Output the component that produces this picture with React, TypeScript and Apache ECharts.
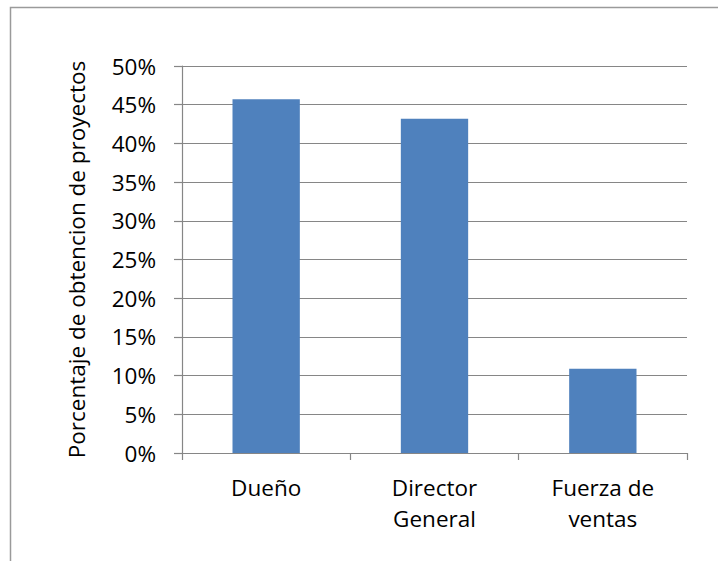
import React, { useEffect, useRef } from "react";
import * as echarts from "echarts";

const categories = ["Dueño", "Director\nGeneral", "Fuerza de\nventas"];
const percentages = [45.7, 43.2, 10.9];
const yTicks = [0, 5, 10, 15, 20, 25, 30, 35, 40, 45, 50];
const yAxisTitle = "Porcentaje de obtencion de proyectos";

const FONT = "'Open Sans', sans-serif";
const GRID_COLOR = "#868686";

export default function App() {
  const ref = useRef<HTMLDivElement>(null);

  useEffect(() => {
    if (!ref.current) return;
    const chart = echarts.init(ref.current, undefined, { renderer: "svg" });
    chart.setOption({
      animation: false,
      backgroundColor: "#ffffff",
      graphic: [
        {
          type: "rect",
          shape: { x: 10.5, y: 7.5, width: 800, height: 700 },
          style: { fill: "none", stroke: "#9a9a9a", lineWidth: 1.5 },
          silent: true,
        },
      ],
      grid: { left: 182, right: 31, top: 66, bottom: 108, containLabel: false },
      xAxis: {
        type: "category",
        data: categories,
        axisLine: { lineStyle: { color: GRID_COLOR, width: 1.2 } },
        axisTick: { show: true, length: 7, lineStyle: { color: GRID_COLOR, width: 1.2 } },
        axisLabel: {
          color: "#000",
          fontFamily: FONT,
          fontSize: 22.5,
          lineHeight: 31,
          margin: 19,
          interval: 0,
        },
      },
      yAxis: {
        type: "value",
        min: yTicks[0],
        max: yTicks[yTicks.length - 1],
        interval: 5,
        name: yAxisTitle,
        nameLocation: "middle",
        nameRotate: 90,
        nameGap: 94,
        nameTextStyle: { color: "#000", fontFamily: FONT, fontSize: 22.5 },
        axisLine: { show: true, lineStyle: { color: GRID_COLOR, width: 1.2 } },
        axisTick: { show: true, length: 8, lineStyle: { color: GRID_COLOR, width: 1.2 } },
        splitLine: { show: true, lineStyle: { color: GRID_COLOR, width: 1.2 } },
        axisLabel: {
          color: "#000",
          fontFamily: FONT,
          fontSize: 22.5,
          margin: 26,
          formatter: (v: number) => `${v}%`,
        },
      },
      series: [
        {
          type: "bar",
          data: percentages,
          barWidth: "40%",
          itemStyle: { color: "#4F81BD" },
        },
      ],
    });
    return () => chart.dispose();
  }, []);

  return (
    <div
      ref={ref}
      style={{ position: "fixed", left: 0, top: 0, width: 718, height: 561 }}
    />
  );
}
